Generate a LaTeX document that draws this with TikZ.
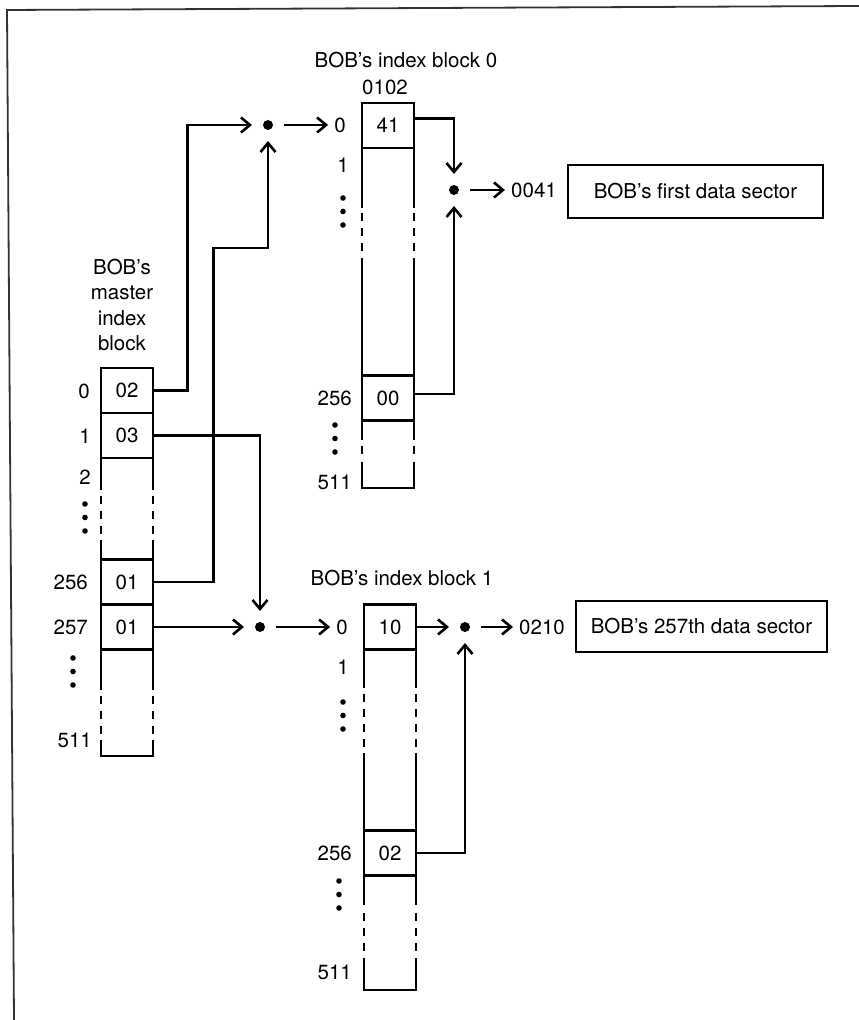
\documentclass[tikz,border=0pt]{standalone}
\usepackage{fontspec}
\setmainfont{TeX Gyre Heros}
\usetikzlibrary{arrows.meta}
\tikzset{
  cell/.style={draw,line width=2.6pt,minimum width=52pt,minimum height=45pt,inner sep=0pt},
  wall/.style={line width=2.6pt},
  gapwall/.style={wall,dash pattern=on 8pt off 7pt},
  lbl/.style={inner sep=1pt},
  tgt/.style={inner sep=6pt},
  dot/.style={circle,fill,minimum size=10pt,inner sep=0pt,outer sep=11pt},
  sector/.style={draw,line width=2.6pt,inner sep=0pt},
  ar/.style={-{Straight Barb[length=9pt,width=15pt]},line width=2.6pt},
}
\begin{document}
\begin{tikzpicture}[x=1pt,y=1pt,font=\fontsize{20.5}{25.3}\selectfont]
  \useasboundingbox (0,0) rectangle (859,1020);
  \draw[line width=1.8pt,draw=black!80] (14,0) -- (7,1010) -- (859,1014);

  % master index block
  \node[lbl,align=center] (tm) at (122,715) {BOB's\\master\\index\\block};
  \node[cell] (m0) at (127,629.5) {02};
  \node[cell] (m1) at (127,584.5) {03};
  \node[cell] (m256) at (127,438) {01};
  \node[cell] (m257) at (127,393) {01};
  \foreach \x in {101,153} {
    \draw[wall] (\x,562) -- (\x,530); \draw[gapwall] (\x,524) -- (\x,486); \draw[wall] (\x,480) -- (\x,460.5);
    \draw[wall] (\x,370.5) -- (\x,330); \draw[gapwall] (\x,324) -- (\x,286);
  }
  \draw[wall] (101,280) -- (101,264) -- (153,264) -- (153,280);
  \node[lbl] (ml0) at (84,629) {0};
  \node[lbl] (ml1) at (85,584) {1};
  \node[lbl] (ml2) at (85,543) {2};
  \node[lbl,anchor=east] (ml256) at (89,438) {256};
  \node[lbl,anchor=east] (ml257) at (89,393) {257};
  \node[lbl,anchor=east] (ml511) at (93,280) {511};

  % index block 0
  \node[lbl] (t0) at (406,960) {BOB's index block 0};
  \node[lbl] (adr0) at (385,933) {0102};
  \node[cell] (a0) at (388,894.5) {41};
  \node[cell] (a256) at (388,622) {00};
  \foreach \x in {362,414} {
    \draw[wall] (\x,872) -- (\x,812); \draw[gapwall] (\x,807) -- (\x,769); \draw[wall] (\x,762) -- (\x,644.5);
    \draw[wall] (\x,599.5) -- (\x,580); \draw[gapwall] (\x,574) -- (\x,565);
  }
  \draw[wall] (362,558) -- (362,532) -- (414,532) -- (414,558);
  \node[tgt] (al0) at (340,895) {0};
  \node[lbl] (al1) at (343,855) {1};
  \node[lbl,anchor=east] (al256) at (353,622) {256};
  \node[lbl,anchor=east] (al511) at (353,538) {511};

  % index block 1
  \node[lbl] (t1) at (402,442) {BOB's index block 1};
  \node[cell] (b0) at (390,393) {10};
  \node[cell] (b256) at (390,167) {02};
  \foreach \x in {364,416} {
    \draw[wall] (\x,370.5) -- (\x,332); \draw[gapwall] (\x,326) -- (\x,273); \draw[wall] (\x,267) -- (\x,189.5);
    \draw[wall] (\x,144.5) -- (\x,115); \draw[gapwall] (\x,107) -- (\x,69);
  }
  \draw[wall] (364,62) -- (364,30) -- (416,30) -- (416,62);
  \node[tgt] (bl0) at (342,393) {0};
  \node[lbl] (bl1) at (343,353) {1};
  \node[lbl,anchor=east] (bl256) at (353,167) {256};
  \node[lbl,anchor=east] (bl511) at (353,48) {511};

  \foreach \x/\y in {85/516,73/362,343/822,335/595,343/318,339/139}
    \foreach \k in {0,1,2} \fill (\x,\y-13.5*\k) circle (2.8);

  % data sectors
  \node[tgt] (p41) at (534,830) {0041};
  \node[sector,minimum width=255pt,minimum height=53pt] (s1) at (695.5,828.5) {BOB's first data sector};
  \node[tgt] (p210) at (542,393) {0210};
  \node[sector,minimum width=251pt,minimum height=51pt] (s257) at (701.5,393.5) {BOB's 257th data sector};

  % junctions
  \node[dot] (d1) at (268,895) {};
  \node[dot] (d2) at (260,393) {};
  \node[dot] (d3) at (454,830) {};
  \node[dot] (d4) at (465,393) {};

  \draw[ar] (m0.east) -- ++(33,0) |- (d1.west);
  \draw[ar] (m256.east) -- ++(59,0) -- ++(0,334) -| (d1.south);
  \draw[ar] (d1) -- (al0);
  \draw[ar] (m1.east) -| (d2.north);
  \draw[ar] (m257.east) -- (d2.west);
  \draw[ar] (d2) -- (bl0);
  \draw[ar] ([yshift=7pt]a0.east) -| (d3.north);
  \draw[ar] ([yshift=4pt]a256.east) -| (d3.south);
  \draw[ar] (d3) -- (p41);
  \draw[ar] (b0.east) -- (d4.west);
  \draw[ar] (b256.east) -| (d4.south);
  \draw[ar] (d4) -- (p210);
\end{tikzpicture}
\end{document}
